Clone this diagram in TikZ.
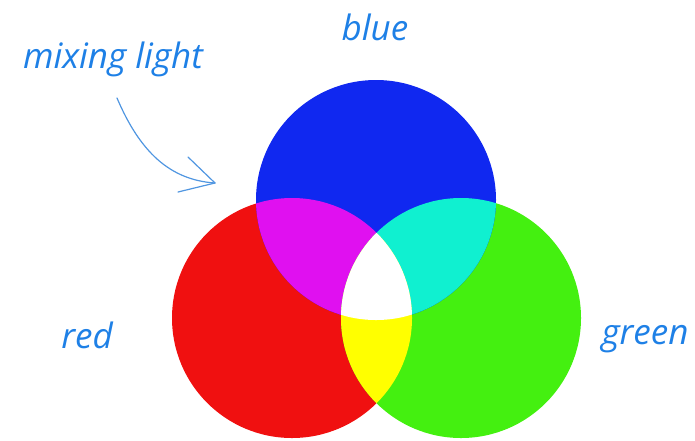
\documentclass[tikz,border=0pt]{standalone}
\usepackage{fontspec}
\setmainfont{Open Sans}
\definecolor{cblue}{RGB}{16,40,240}
\definecolor{cred}{RGB}{240,16,16}
\definecolor{cgreen}{RGB}{68,240,16}
\definecolor{cmag}{RGB}{224,16,240}
\definecolor{ccyan}{RGB}{16,240,208}
\definecolor{cyel}{RGB}{255,255,0}
\definecolor{ctext}{RGB}{30,128,230}
\definecolor{carrow}{RGB}{80,150,225}
\tikzset{
  lbl/.style={text=ctext, font=\itshape\fontsize{35}{40}\selectfont, inner sep=0pt},
  arr/.style={draw=carrow, line width=1.2pt, line cap=round}
}
\begin{document}
\begin{tikzpicture}[x=1pt,y=-1pt]
\useasboundingbox (0,0) rectangle (695,440);
\def\Bc{(376,200) circle (120pt)}
\def\Rc{(292,318) circle (120pt)}
\def\Gc{(461,318) circle (120pt)}
\fill[cred] \Rc;
\fill[cgreen] \Gc;
\fill[cblue] \Bc;
\begin{scope}\clip \Rc; \fill[cmag] \Bc; \end{scope}
\begin{scope}\clip \Bc; \fill[ccyan] \Gc; \end{scope}
\begin{scope}\clip \Rc; \fill[cyel] \Gc; \end{scope}
\begin{scope}\clip \Rc; \clip \Gc; \fill[white] \Bc; \end{scope}
\node[lbl] (mix) at (113,59) {mixing light};
\node[lbl] (blue) at (375,27) {blue};
\node[lbl] (red) at (87,335) {red};
\node[lbl] (green) at (645,339) {green};
\coordinate (a0) at (117,98);
\coordinate (tip) at (215,183);
\draw[arr] (a0) .. controls (140,152) and (170,180) .. (tip);
\draw[arr] (tip) -- (188,157);
\draw[arr] (tip) -- (178,192);
\end{tikzpicture}
\end{document}
